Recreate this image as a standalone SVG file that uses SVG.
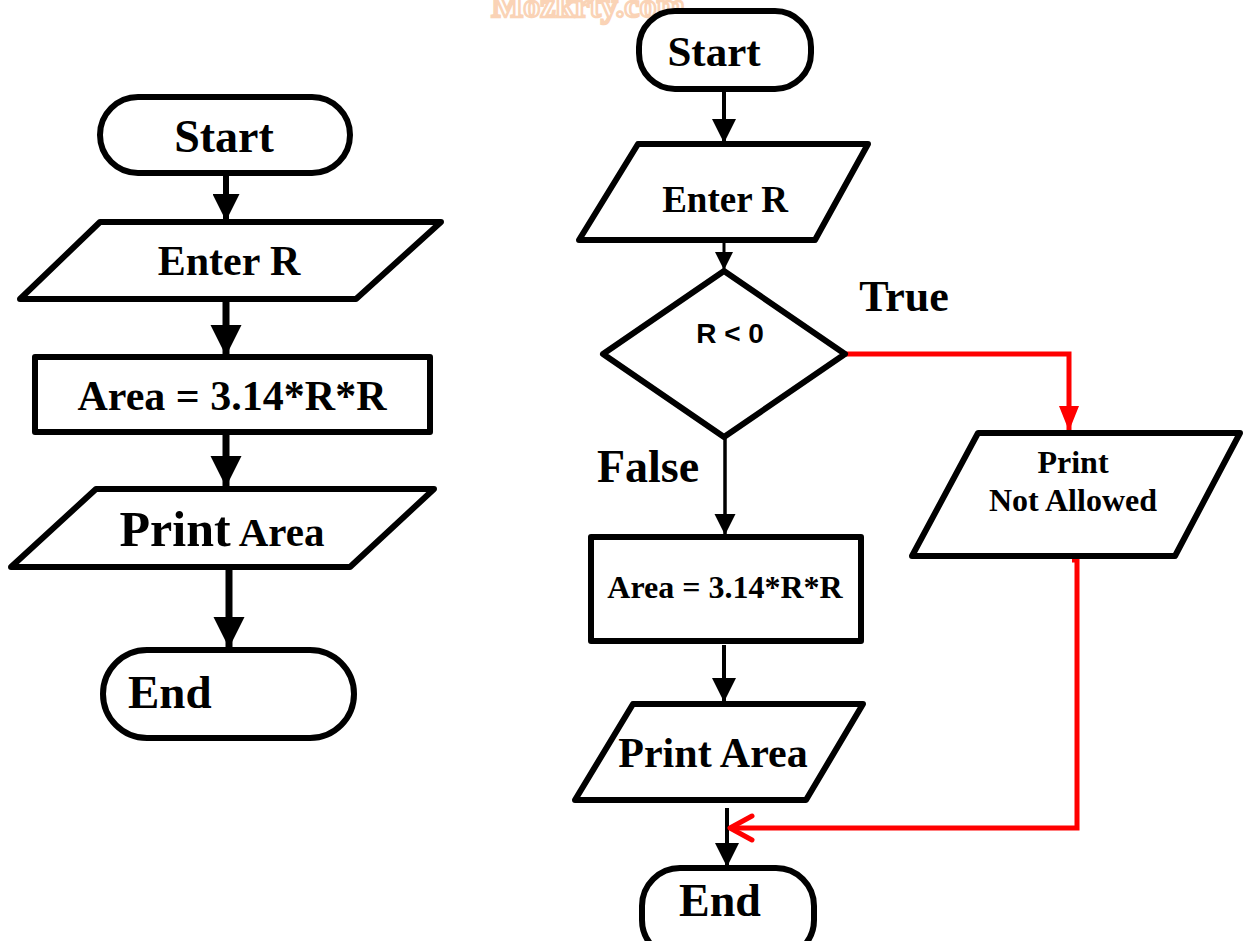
<svg xmlns="http://www.w3.org/2000/svg" width="1247" height="941" viewBox="0 0 1247 941">
  <style>
    .shape { fill: #fff; stroke: #000; stroke-width: 6; stroke-linejoin: round; }
    .lbl { font-family: "Liberation Serif", "Times New Roman", serif; font-weight: bold; fill: #000; text-anchor: middle; }
    .lbl.start { text-anchor: start; }
    .sans { font-family: "Liberation Sans", Arial, sans-serif; font-weight: bold; fill: #000; text-anchor: middle; }
    .flow { fill: none; stroke: #000; }
    .red { fill: none; stroke: #ff0000; stroke-width: 5; }
  </style>
  <defs>
    <marker id="ah" viewBox="0 0 10 10" refX="10" refY="5" markerWidth="4.5" markerHeight="4.5" markerUnits="strokeWidth" orient="auto">
      <path d="M0,0 L10,5 L0,10 z" fill="#000"/>
    </marker>
    <marker id="ahThin" viewBox="0 0 10 10" refX="10" refY="5" markerWidth="6" markerHeight="7" markerUnits="strokeWidth" orient="auto">
      <path d="M0,0 L10,5 L0,10 z" fill="#000"/>
    </marker>
    <marker id="ahRed" viewBox="0 0 10 10" refX="10" refY="5" markerWidth="5" markerHeight="5" markerUnits="strokeWidth" orient="auto">
      <path d="M0,1 L10,5 L0,9 z" fill="#ff0000"/>
    </marker>
  </defs>

  <!-- site mark along the top edge -->
  <text x="588" y="17" font-family="Liberation Serif, serif" font-weight="bold" font-size="34" text-anchor="middle" fill="#fff" stroke="#f9c9a4" stroke-width="2.5" opacity="0.8">Mozkrty.com</text>

  <!-- connectors -->
  <g id="connectors">
    <!-- left flow -->
    <line class="flow" x1="226" y1="172" x2="226" y2="221" stroke-width="6" marker-end="url(#ah)"/>
    <line class="flow" x1="226" y1="300" x2="226" y2="356" stroke-width="7" marker-end="url(#ah)"/>
    <line class="flow" x1="226" y1="432" x2="226" y2="487" stroke-width="7" marker-end="url(#ah)"/>
    <line class="flow" x1="229" y1="567" x2="229" y2="648" stroke-width="7" marker-end="url(#ah)"/>
    <!-- right flow -->
    <line class="flow" x1="724" y1="90" x2="724" y2="143" stroke-width="4" marker-end="url(#ahThin)"/>
    <line class="flow" x1="724" y1="240" x2="724" y2="270" stroke-width="3" marker-end="url(#ahThin)"/>
    <line class="flow" x1="725" y1="438" x2="725" y2="535" stroke-width="3.5" marker-end="url(#ahThin)"/>
    <line class="flow" x1="724" y1="645" x2="724" y2="702" stroke-width="4" marker-end="url(#ahThin)"/>
    <line class="flow" x1="727" y1="808" x2="727" y2="867" stroke-width="4" marker-end="url(#ahThin)"/>
    <!-- true branch -->
    <polyline class="red" points="845,354 1069,354 1069,431" marker-end="url(#ahRed)"/>
    <polyline class="red" points="1072,560 1077,560 1077,828 730,828"/>
    <polyline points="752,816 730,828 752,840" fill="none" stroke="#ff0000" stroke-width="5" stroke-linecap="round" stroke-linejoin="round"/>
  </g>

  <!-- left flowchart -->
  <g id="l-start">
    <rect class="shape" x="100" y="97" width="250" height="76" rx="38"/>
    <text class="lbl" x="224" y="152" font-size="46">Start</text>
  </g>
  <g id="l-input">
    <polygon class="shape" points="100,222 441,222 356,299 20,299"/>
    <text class="lbl" x="229" y="275" font-size="42">Enter R</text>
  </g>
  <g id="l-process">
    <rect class="shape" x="35" y="357" width="395" height="75"/>
    <text class="lbl" x="232" y="410" font-size="42">Area = 3.14*R*R</text>
  </g>
  <g id="l-output">
    <polygon class="shape" points="96,489 434,489 350,567 11,567"/>
    <text class="lbl" x="222" y="546"><tspan font-size="50">Print</tspan><tspan font-size="41"> Area</tspan></text>
  </g>
  <g id="l-end">
    <rect class="shape" x="103" y="650" width="251" height="88" rx="44"/>
    <text class="lbl start" x="128" y="708" font-size="47">End</text>
  </g>

  <!-- right flowchart -->
  <g id="r-start">
    <rect class="shape" x="639" y="11" width="172" height="78" rx="36"/>
    <text class="lbl" x="714" y="66" font-size="43">Start</text>
  </g>
  <g id="r-input">
    <polygon class="shape" points="638,144 868,144 815,240 579,240"/>
    <text class="lbl" x="725" y="212" font-size="37">Enter R</text>
  </g>
  <g id="r-decision">
    <polygon class="shape" points="724,271 845,354 724,437 603,354"/>
    <text class="sans" x="730" y="343" font-size="28">R &lt; 0</text>
  </g>
  <text class="lbl" x="904" y="311" font-size="44">True</text>
  <text class="lbl" x="648" y="482" font-size="46">False</text>
  <g id="r-process">
    <rect class="shape" x="591" y="537" width="270" height="104"/>
    <text class="lbl" x="725" y="598" font-size="32">Area = 3.14*R*R</text>
  </g>
  <g id="r-warn">
    <polygon class="shape" points="978,433 1240,433 1175,556 912,556"/>
    <text class="lbl" x="1073" y="473" font-size="32">Print</text>
    <text class="lbl" x="1073" y="511" font-size="32">Not Allowed</text>
  </g>
  <g id="r-output">
    <polygon class="shape" points="633,704 863,704 806,800 575,800"/>
    <text class="lbl" x="713" y="767" font-size="42">Print Area</text>
  </g>
  <g id="r-end">
    <rect class="shape" x="642" y="868" width="172" height="90" rx="38"/>
    <text class="lbl" x="720" y="916" font-size="46">End</text>
  </g>
</svg>
